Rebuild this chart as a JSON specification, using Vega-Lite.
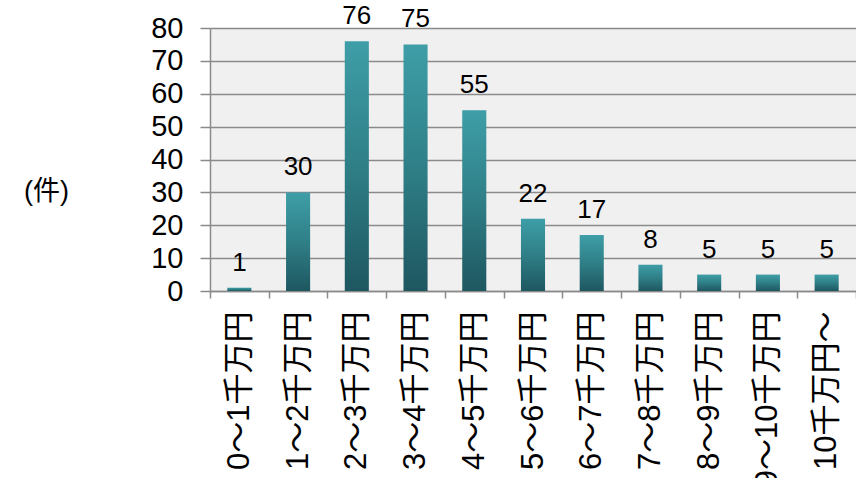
{
  "$schema": "https://vega.github.io/schema/vega-lite/v6.json",
  "width": 646,
  "height": 263,
  "autosize": {"type": "none"},
  "padding": {"left": 210, "top": 28, "right": 0, "bottom": 187},
  "background": "white",
  "config": {"view": {"stroke": null, "fill": "#f0f0f0"}},
  "data": {
    "values": [
      {"range": "0～1千万円", "count": 1},
      {"range": "1～2千万円", "count": 30},
      {"range": "2～3千万円", "count": 76},
      {"range": "3～4千万円", "count": 75},
      {"range": "4～5千万円", "count": 55},
      {"range": "5～6千万円", "count": 22},
      {"range": "6～7千万円", "count": 17},
      {"range": "7～8千万円", "count": 8},
      {"range": "8～9千万円", "count": 5},
      {"range": "9～10千万円", "count": 5},
      {"range": "10千万円～", "count": 5}
    ]
  },
  "encoding": {
    "x": {
      "field": "range",
      "type": "nominal",
      "sort": null,
      "scale": {"paddingInner": 0, "paddingOuter": 0},
      "axis": {
        "title": null,
        "labelAngle": -90,
        "labelAlign": "right",
        "labelBaseline": "middle",
        "labelFont": "Liberation Sans, Noto Sans CJK JP",
        "labelFontSize": 31,
        "labelColor": "#000000",
        "labelPadding": 13,
        "labelOverlap": false,
        "labelLimit": 400,
        "tickBand": "extent",
        "tickSize": 7,
        "tickColor": "#8a8a8a",
        "tickWidth": 1.5,
        "domainColor": "#8a8a8a",
        "domainWidth": 1.5,
        "grid": false
      }
    },
    "y": {
      "field": "count",
      "type": "quantitative",
      "scale": {"domain": [0, 80], "nice": false},
      "axis": {
        "values": [0, 10, 20, 30, 40, 50, 60, 70, 80],
        "title": "(件)",
        "titleAngle": 0,
        "titleX": -164,
        "titleY": 163,
        "titleAlign": "center",
        "titleBaseline": "middle",
        "titleFont": "Liberation Sans, Noto Sans CJK JP",
        "titleFontSize": 27,
        "titleFontWeight": "normal",
        "titleColor": "#000000",
        "labelFont": "Liberation Sans",
        "labelFontSize": 29,
        "labelColor": "#000000",
        "labelPadding": 17,
        "labelBaseline": "middle",
        "tickSize": 10,
        "tickColor": "#8a8a8a",
        "tickWidth": 1.5,
        "domainColor": "#8a8a8a",
        "domainWidth": 1.5,
        "grid": true,
        "gridColor": "#8a8a8a",
        "gridWidth": 1.5
      }
    }
  },
  "layer": [
    {
      "mark": {
        "type": "bar",
        "width": {"band": 0.41},
        "color": {
          "gradient": "linear",
          "x1": 0, "y1": 0, "x2": 0, "y2": 1,
          "stops": [
            {"offset": 0, "color": "#3e9ea7"},
            {"offset": 0.5, "color": "#2f7f87"},
            {"offset": 1, "color": "#1e5760"}
          ]
        }
      }
    },
    {
      "mark": {
        "type": "text",
        "dy": -17,
        "baseline": "alphabetic",
        "font": "Liberation Sans",
        "fontSize": 26,
        "color": "#000000"
      },
      "encoding": {"text": {"field": "count", "type": "quantitative"}}
    }
  ]
}
